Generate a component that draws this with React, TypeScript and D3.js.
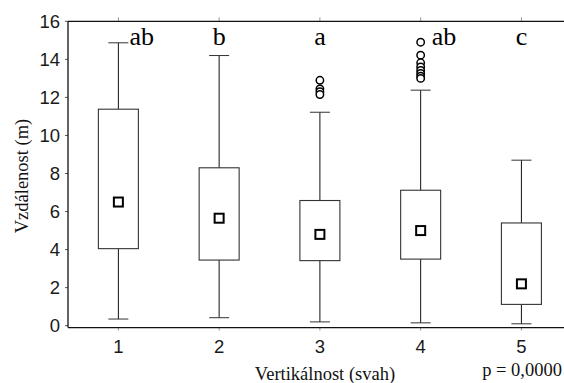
import React from 'react';
import * as d3 from 'd3';

// Box-plot summary per slope class
const categories = [1, 2, 3, 4, 5];
const whiskerLow = [0.35, 0.42, 0.2, 0.15, 0.1];
const q1 = [4.05, 3.45, 3.42, 3.5, 1.12];
const q3 = [11.38, 8.3, 6.58, 7.12, 5.4];
const whiskerHigh = [14.87, 14.2, 11.22, 12.38, 8.7];
const means = [6.5, 5.65, 4.8, 5.0, 2.2];
const outliers: number[][] = [
  [],
  [],
  [12.9, 12.45, 12.3, 12.15],
  [14.9, 14.22, 13.82, 13.6, 13.42, 13.26, 13.12, 13.0],
  [],
];
const groupLetters = ['ab', 'b', 'a', 'ab', 'c'];
const yTicks = [0, 2, 4, 6, 8, 10, 12, 14, 16];

const W = 564;
const H = 383;
const left = 68;
const top = 21.3;
const zeroY = 325.7;

const serif = "'Liberation Serif', 'Times New Roman', serif";
const sans = "'Liberation Sans', Arial, sans-serif";

export default function App() {
  const x = d3.scaleLinear().domain([0.5, 5.5]).range([left, 571.8]);
  const y = d3.scaleLinear().domain([0, 16]).range([zeroY, top]);
  const bottom = y(-0.1);
  const boxW = 40;
  const capW = 20;
  const sq = 9;

  return (
    <svg
      width={W}
      height={H}
      style={{ position: 'absolute', left: 0, top: 0, background: '#fff' }}
    >
      <rect x={0} y={0} width={W} height={H} fill="#fff" />

      {/* category ticks on top and bottom frame */}
      {categories.map((c) => (
        <g key={'t' + c} stroke="#999" strokeWidth={1}>
          <line x1={x(c)} x2={x(c)} y1={top} y2={top - 4} />
          <line x1={x(c)} x2={x(c)} y1={bottom} y2={bottom + 3} />
        </g>
      ))}

      {/* value ticks */}
      {yTicks.map((t) => (
        <g key={'y' + t}>
          <line x1={left - 3} x2={left} y1={y(t)} y2={y(t)} stroke="#555" strokeWidth={1} />
          <text
            x={60}
            y={y(t) + 6.3}
            textAnchor="end"
            fontFamily={sans}
            fontSize={18.5}
            fill="#1a1a1a"
          >
            {t}
          </text>
        </g>
      ))}

      {/* frame */}
      <line x1={left} x2={W} y1={top} y2={top} stroke="#111" strokeWidth={1.3} />
      <line x1={left} x2={W} y1={bottom} y2={bottom} stroke="#111" strokeWidth={1.3} />
      <line x1={left} x2={left} y1={top} y2={bottom} stroke="#111" strokeWidth={1.3} />

      {/* boxes */}
      {categories.map((c, i) => {
        const cx = x(c);
        const topMost = Math.max(whiskerHigh[i], ...outliers[i]);
        const shifted = topMost > 14.5;
        return (
          <g key={'b' + c}>
            <line x1={cx} x2={cx} y1={y(whiskerHigh[i])} y2={y(q3[i])} stroke="#111" strokeWidth={1} />
            <line x1={cx} x2={cx} y1={y(q1[i])} y2={y(whiskerLow[i])} stroke="#111" strokeWidth={1} />
            <line x1={cx - capW / 2} x2={cx + capW / 2} y1={y(whiskerHigh[i])} y2={y(whiskerHigh[i])} stroke="#333" strokeWidth={1} />
            <line x1={cx - capW / 2} x2={cx + capW / 2} y1={y(whiskerLow[i])} y2={y(whiskerLow[i])} stroke="#333" strokeWidth={1} />
            <rect
              x={cx - boxW / 2}
              y={y(q3[i])}
              width={boxW}
              height={y(q1[i]) - y(q3[i])}
              fill="#fff"
              stroke="#333"
              strokeWidth={1.1}
            />
            <rect
              x={cx - sq / 2}
              y={y(means[i]) - sq / 2}
              width={sq}
              height={sq}
              fill="#fff"
              stroke="#000"
              strokeWidth={2}
            />
            {outliers[i].map((o, j) => (
              <circle key={j} cx={cx} cy={y(o)} r={3.7} fill="#fff" stroke="#000" strokeWidth={1.5} />
            ))}
            <text
              x={shifted ? cx + 11 : cx}
              y={45}
              textAnchor={shifted ? 'start' : 'middle'}
              fontFamily={serif}
              fontSize={26}
              fill="#000"
            >
              {groupLetters[i]}
            </text>
            <text
              x={cx}
              y={353}
              textAnchor="middle"
              fontFamily={sans}
              fontSize={18.5}
              fill="#1a1a1a"
            >
              {c}
            </text>
          </g>
        );
      })}

      {/* axis titles */}
      <text x={325} y={380} textAnchor="middle" fontFamily={serif} fontSize={18.5} fill="#111">
        Vertikálnost (svah)
      </text>
      <text x={562} y={375.5} textAnchor="end" fontFamily={serif} fontSize={18.5} fill="#111">
        p = 0,0000
      </text>
      <text
        transform="translate(28,176) rotate(-90)"
        textAnchor="middle"
        fontFamily={serif}
        fontSize={18.5}
        fill="#111"
      >
        Vzdálenost (m)
      </text>
    </svg>
  );
}
